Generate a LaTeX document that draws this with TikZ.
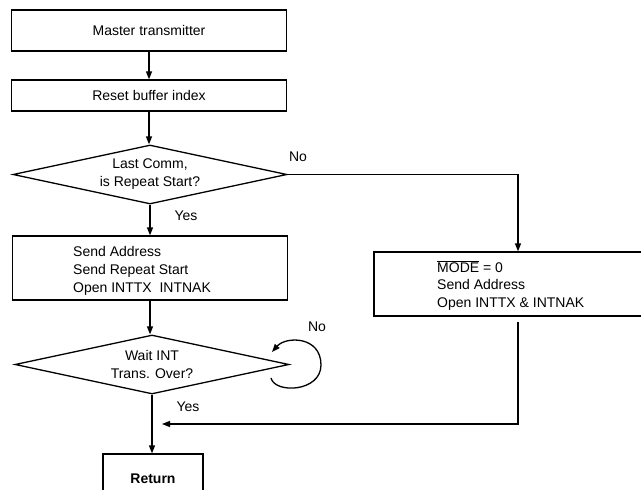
\documentclass[tikz,border=0pt]{standalone}
\usepackage{fontspec}
\setmainfont{Liberation Sans}
\usetikzlibrary{shapes.geometric,arrows.meta}
\begin{document}
\begin{tikzpicture}[x=1pt,y=-1pt,
  every node/.style={font=\fontsize{14}{18}\selectfont},
  box/.style={draw, line width=1.3pt, minimum width=275pt, inner sep=0pt},
  dia/.style={draw, diamond, line width=1.3pt, inner sep=0pt, minimum width=274pt, minimum height=59pt},
  arr/.style={line width=1.3pt, -{Triangle[length=8pt,width=6pt]}},
  lbl/.style={inner sep=0pt}]
\fill[white] (0,0) rectangle (641,490);
\useasboundingbox (0,0) rectangle (641,490);
% boxes
\node[box, minimum height=41pt] (b1) at (149,30.5) {Master transmitter};
\node[box, minimum height=31pt] (b2) at (149,95.5) {Reset buffer index};
\node[dia] (d1) at (150,174.5) {};
\node[lbl, align=center] (t1) at (d1) {Last Comm,\\is Repeat Start?};
\node[box, minimum height=64pt] (b4) at (150,268) {};
\node[lbl, align=left, anchor=west] (t4) at (73,271) {Send Address\\Send Repeat Start\\Open INTTX\ \ INTNAK};
\node[dia] (d2) at (152,364.5) {};
\node[lbl, align=center] (t2) at (d2) {Wait INT\\Trans. Over?};
\node[box, minimum width=271pt, minimum height=64pt] (b3) at (509.5,284) {};
\node[lbl, align=left, anchor=west, font=\fontsize{14}{17.5}\selectfont] (t3) at (437,285.5) {$\overline{\hbox{MODE}}$ = 0\\Send Address\\Open INTTX \& INTNAK};
\node[box, minimum width=100pt, minimum height=50pt, font=\fontsize{14}{18}\selectfont\bfseries] (ret) at (153,479) {Return};
% labels
\node[lbl] (no1) at (298,157) {No};
\node[lbl] (yes1) at (186,216) {Yes};
\node[lbl] (no2) at (317,327) {No};
\node[lbl] (yes2) at (188,407) {Yes};
% connectors
\draw[arr] (b1.south) -- (b2.north);
\draw[arr] (b2.south) -- (b2.south |- d1.north);
\draw[arr] (d1.south) -- (b4.north);
\draw[arr] (b4.south) -- (b4.south |- d2.north);
\draw[arr] (d2.south) -- (d2.south |- ret.north);
\draw[arr] (d1.east) -| ([xshift=8.5pt]b3.north);
\coordinate (j) at (162,424);
\draw[arr] ([xshift=8.5pt,yshift=-5pt]b3.south) |- (j);
\coordinate (ls) at (271,378);
\coordinate (le) at (272,352);
\draw[arr] (ls) .. controls (275,394) and (321,392) .. (321,365) .. controls (321,336) and (286,336) .. (le);
\end{tikzpicture}
\end{document}
